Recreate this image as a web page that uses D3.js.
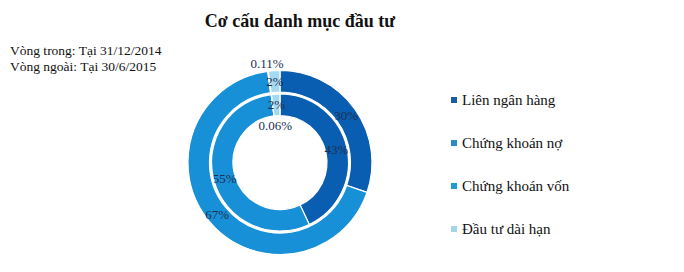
<!DOCTYPE html>
<html>
<head>
<meta charset="utf-8">
<script src="https://cdn.jsdelivr.net/npm/d3@7"></script>
<style>
  body { margin: 0; background: #fff; }
  svg text { font-family: "Liberation Serif", "Times New Roman", serif; }
</style>
</head>
<body>
<svg width="684" height="272"></svg>
<script>
// Data
var categories = ['Liên ngân hàng', 'Chứng khoán nợ', 'Chứng khoán vốn', 'Đầu tư dài hạn'];
var innerValues = [43, 55, 0.06, 2];   // Vòng trong: 31/12/2014
var outerValues = [30, 67, 0.11, 2];   // Vòng ngoài: 30/6/2015
var colors = ['#0a5eb2', '#1890d8', '#1a9ad9', '#a6d8f0'];
var swatchColors = ['#1f5e9c', '#2a8cc6', '#1d9ad8', '#a3d5ee'];

var svg = d3.select('svg');
var cx = 280, cy = 162.5;

// Title and notes
svg.append('text')
    .attr('x', 300).attr('y', 27)
    .attr('text-anchor', 'middle')
    .style('font-size', '18px').style('font-weight', 'bold')
    .attr('fill', '#111')
    .text('Cơ cấu danh mục đầu tư');

svg.append('text').attr('x', 10).attr('y', 55)
    .style('font-size', '13.5px').attr('fill', '#111')
    .text('Vòng trong:  Tại 31/12/2014');
svg.append('text').attr('x', 10).attr('y', 71)
    .style('font-size', '13.5px').attr('fill', '#111')
    .text('Vòng ngoài: Tại 30/6/2015');

var pie = d3.pie().sort(null).value(function(d) { return d; });
var colorScale = d3.scaleOrdinal().domain(d3.range(categories.length)).range(colors);

var chartG = svg.append('g').attr('transform', 'translate(' + [cx, cy] + ')');

// rings: inner and outer
var rings = [
    {values: innerValues, r0: 47, r1: 68.5, smallR: 37},
    {values: outerValues, r0: 70.5, r1: 92, smallR: 100}
];

rings.forEach(function(ring) {
    var arc = d3.arc().innerRadius(ring.r0).outerRadius(ring.r1);
    var arcs = pie(ring.values);

    chartG.append('g').selectAll('path')
        .data(arcs)
        .enter().append('path')
        .attr('d', arc)
        .attr('fill', function(d, i) { return colorScale(i); })
        .attr('stroke', '#fff')
        .attr('stroke-width', 1.2);

    chartG.append('g').selectAll('text')
        .data(arcs)
        .enter().append('text')
        .attr('transform', function(d) {
            var p;
            if (d.data < 1) {
                // tiny slices get their label pushed off the ring
                var a = (d.startAngle + d.endAngle) / 2;
                p = [Math.sin(a) * ring.smallR, -Math.cos(a) * ring.smallR];
            } else {
                p = arc.centroid(d);
            }
            return 'translate(' + p + ')';
        })
        .attr('text-anchor', 'middle')
        .attr('dy', '0.35em')
        .style('font-size', '13px')
        .attr('fill', '#1a3150')
        .text(function(d) { return d.data + '%'; });
});

// white line between the rings
chartG.append('circle')
    .attr('r', 69.5)
    .attr('fill', 'none')
    .attr('stroke', '#fff')
    .attr('stroke-width', 1.5);

// Legend
var legendY = d3.scalePoint().domain(categories).range([100, 229]);
var legendG = svg.append('g').selectAll('g')
    .data(categories)
    .enter().append('g')
    .attr('transform', function(d) { return 'translate(' + [451, legendY(d)] + ')'; });

legendG.append('rect')
    .attr('x', 0).attr('y', -3)
    .attr('width', 6).attr('height', 6)
    .attr('fill', function(d, i) { return swatchColors[i]; });

legendG.append('text')
    .attr('x', 11).attr('dy', '0.35em')
    .style('font-size', '15px')
    .attr('fill', '#111')
    .text(function(d) { return d; });
</script>
</body>
</html>
